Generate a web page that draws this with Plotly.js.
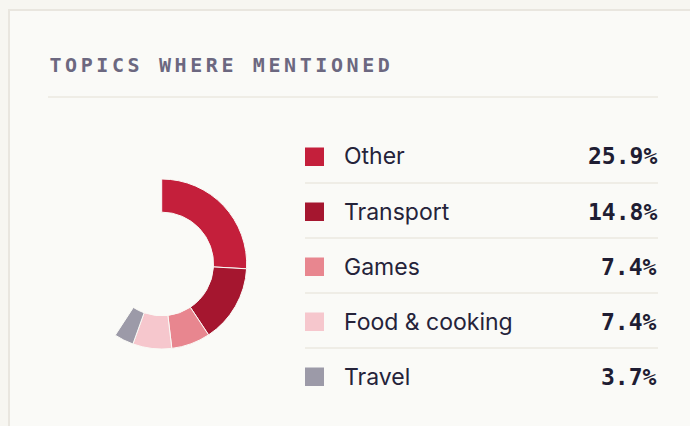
<!DOCTYPE html>
<html>
<head>
<meta charset="utf-8">
<script src="https://cdn.plot.ly/plotly-3.0.1.min.js"></script>
<style>
  html, body { margin: 0; padding: 0; background: #f7f6f1; }
  #chart { width: 690px; height: 426px; }
  .annotation[data-index="0"] text { letter-spacing: 3.6px; }
</style>
</head>
<body>
<div id="chart"></div>
<script>
// ---- data ----
const chartTitle = "TOPICS WHERE MENTIONED";
const categories = ["Other", "Transport", "Games", "Food & cooking", "Travel"];
const shares = [25.9, 14.8, 7.4, 7.4, 3.7];
const colors = ["#c41f3b", "#a5162f", "#e8868f", "#f6c7cd", "#9c9aa8"];

// ---- layout helpers (pixel -> paper) ----
const W = 690, H = 426;
const px = x => x / W;
const py = y => 1 - y / H;

const remainder = Math.max(0, 100 - shares.reduce((a, b) => a + b, 0));
const pieValues = shares.concat([remainder]);
const pieColors = colors.concat(["rgba(0,0,0,0)"]);
const pieLines = colors.map(() => "#fafaf6").concat(["rgba(0,0,0,0)"]);

const cx = 161.7, cy = 264, R = 85;

const trace = {
  type: "pie",
  values: pieValues,
  labels: categories.concat(["_rest"]),
  sort: false,
  direction: "clockwise",
  rotation: 0,
  hole: 0.61,
  textinfo: "none",
  hoverinfo: "none",
  showlegend: false,
  marker: { colors: pieColors, line: { color: pieLines, width: 1 } },
  domain: { x: [px(cx - R), px(cx + R)], y: [py(cy + R), py(cy - R)] }
};

const shapes = [];
const annotations = [];

// card
shapes.push({ type: "rect", xref: "paper", yref: "paper", layer: "below",
  x0: px(9), x1: px(720), y0: py(10), y1: py(460),
  fillcolor: "#fafaf7", line: { color: "#e9e6df", width: 2 } });
// title divider
shapes.push({ type: "line", xref: "paper", yref: "paper", layer: "below",
  x0: px(48), x1: px(658), y0: py(97), y1: py(97),
  line: { color: "#ebe8e1", width: 1.5 } });

// title centred on its span (letter-spacing is added by CSS around the centre)
annotations.push({ xref: "paper", yref: "paper", x: px(221.5), y: py(65),
  xanchor: "center", yanchor: "middle", showarrow: false, text: chartTitle,
  font: { family: "DejaVu Sans Mono", size: 20, color: "#6c6880", weight: "bold" } });

const rowTop = 156.5, pitch = 55;
categories.forEach((c, i) => {
  const yc = rowTop + i * pitch;
  shapes.push({ type: "rect", xref: "paper", yref: "paper", layer: "below",
    x0: px(305), x1: px(324), y0: py(yc - 9), y1: py(yc + 9.5),
    fillcolor: colors[i], line: { width: 0 } });
  if (i < categories.length - 1) {
    shapes.push({ type: "line", xref: "paper", yref: "paper", layer: "below",
      x0: px(305), x1: px(658), y0: py(yc + 26.5), y1: py(yc + 26.5),
      line: { color: "#ebe8e1", width: 1.5 } });
  }
  annotations.push({ xref: "paper", yref: "paper", x: px(342), y: py(yc),
    xanchor: "left", yanchor: "middle", showarrow: false, text: c,
    font: { family: "Inter", size: 23, color: "#25233a" } });
  annotations.push({ xref: "paper", yref: "paper", x: px(659), y: py(yc),
    xanchor: "right", yanchor: "middle", showarrow: false, text: shares[i].toFixed(1) + "%",
    font: { family: "DejaVu Sans Mono", size: 23, color: "#1f1d33", weight: "bold" } });
});

const layout = {
  width: W, height: H,
  margin: { l: 0, r: 0, t: 0, b: 0 },
  paper_bgcolor: "#f7f6f1",
  plot_bgcolor: "rgba(0,0,0,0)",
  showlegend: false,
  shapes: shapes,
  annotations: annotations
};

Plotly.newPlot("chart", [trace], layout, { staticPlot: true, displayModeBar: false });
</script>
</body>
</html>
